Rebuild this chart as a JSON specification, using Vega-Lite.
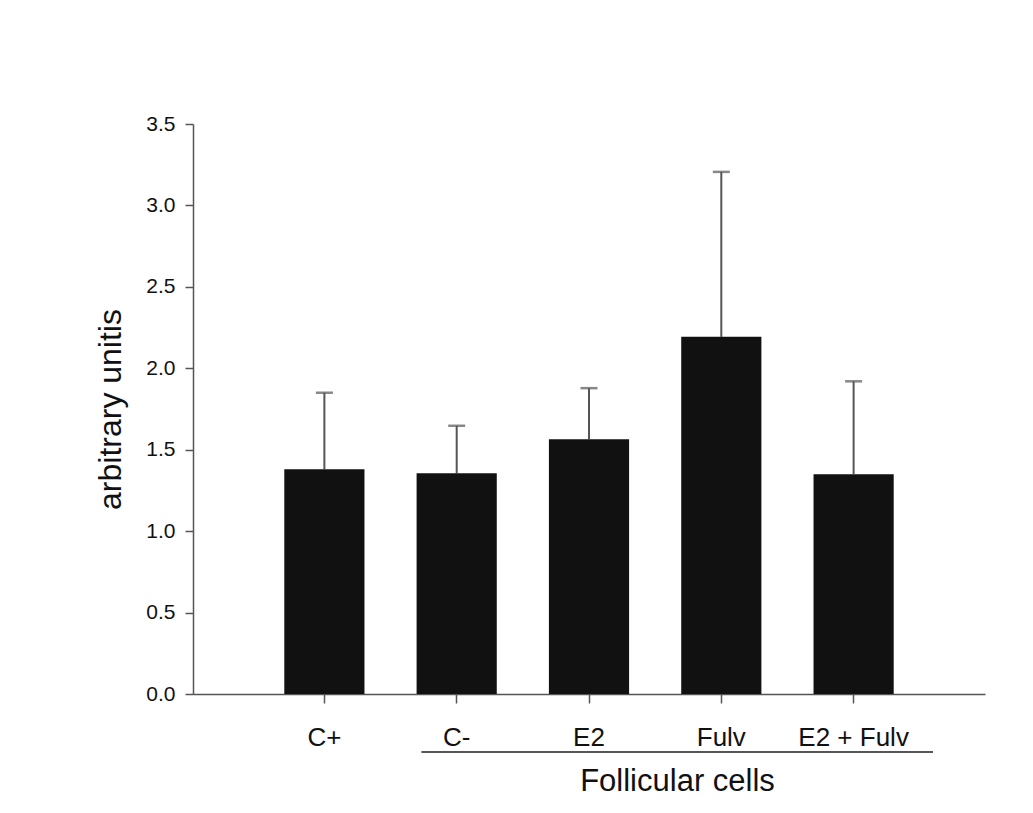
{
  "$schema": "https://vega.github.io/schema/vega-lite/v6.json",
  "width": 792,
  "height": 570,
  "autosize": "none",
  "padding": {"left": 193, "top": 124, "right": 48, "bottom": 119},
  "background": "white",
  "config": {
    "view": {"stroke": null},
    "font": "Liberation Sans",
    "axis": {"labelFont": "Liberation Sans", "titleFont": "Liberation Sans", "grid": false, "domainColor": "#555555", "tickColor": "#555555", "domainWidth": 1.5, "tickWidth": 1.5, "labelColor": "#111111", "titleColor": "#111111", "titleFontWeight": "normal"}
  },
  "datasets": {
    "bars": [
      {"group": "C+", "value": 1.38, "upper": 1.85},
      {"group": "C-", "value": 1.355, "upper": 1.647},
      {"group": "E2", "value": 1.565, "upper": 1.878},
      {"group": "Fulv", "value": 2.193, "upper": 3.206},
      {"group": "E2 + Fulv", "value": 1.35, "upper": 1.92}
    ],
    "bracket": [
      {"start": "C-", "end": "E2 + Fulv", "value": -0.356}
    ]
  },
  "layer": [
    {
      "data": {"name": "bars"},
      "mark": {"type": "rule", "color": "#555555", "strokeWidth": 2},
      "encoding": {
        "x": {"field": "group", "type": "nominal", "sort": ["C+", "C-", "E2", "Fulv", "E2 + Fulv"]},
        "y": {"field": "value", "type": "quantitative", "title": "arbitrary unitis"},
        "y2": {"field": "upper"}
      }
    },
    {
      "data": {"name": "bars"},
      "mark": {"type": "tick", "color": "#555555", "thickness": 2.5, "size": 17, "orient": "horizontal"},
      "encoding": {
        "x": {"field": "group", "type": "nominal", "sort": ["C+", "C-", "E2", "Fulv", "E2 + Fulv"]},
        "y": {"field": "upper", "type": "quantitative", "title": "arbitrary unitis"}
      }
    },
    {
      "data": {"name": "bars"},
      "mark": {"type": "bar", "color": "#111111"},
      "encoding": {
        "x": {
          "field": "group", "type": "nominal", "sort": ["C+", "C-", "E2", "Fulv", "E2 + Fulv"],
          "scale": {"domain": ["C+", "C-", "E2", "Fulv", "E2 + Fulv"], "paddingInner": 0.394, "paddingOuter": 0.69},
          "axis": {"labelAngle": 0, "labelAlign": "center", "labelFontSize": 26, "labelPadding": 34, "labelBaseline": "middle", "tickSize": 9, "title": "Follicular cells", "titleFontSize": 31, "titleX": 484, "titleY": 87, "titleAlign": "center", "titleBaseline": "middle", "titleAnchor": null}
        },
        "y": {
          "field": "value", "type": "quantitative", "title": "arbitrary unitis",
          "scale": {"domain": [0, 3.5], "nice": false, "zero": true},
          "axis": {"values": [0, 0.5, 1, 1.5, 2, 2.5, 3, 3.5], "format": ".1f", "labelFontSize": 21, "labelPadding": 10, "tickSize": 8, "titleFontSize": 32, "titlePadding": 18}
        }
      }
    },
    {
      "data": {"name": "bracket"},
      "mark": {"type": "rule", "color": "#555555", "strokeWidth": 2, "clip": false},
      "encoding": {
        "x": {"field": "start", "type": "nominal", "bandPosition": 0.06, "sort": ["C+", "C-", "E2", "Fulv", "E2 + Fulv"]},
        "x2": {"field": "end", "bandPosition": 1.49},
        "y": {"field": "value", "type": "quantitative", "title": "arbitrary unitis"}
      }
    }
  ]
}
